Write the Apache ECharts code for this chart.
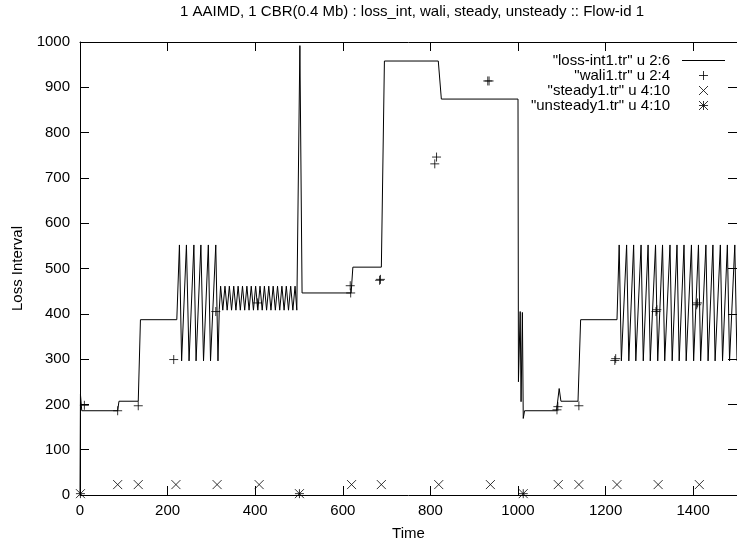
<!DOCTYPE html>
<html><head><meta charset="utf-8">
<script src="https://cdn.jsdelivr.net/npm/echarts@6/dist/echarts.min.js"></script>
<style>html,body{margin:0;padding:0;background:#fff}#c{width:737px;height:546px}</style>
</head><body><div id="c"></div>
<script>
// "loss-int1.tr" u 2:6  -> [time, loss interval]
const lossPoints = [
  [0,3],[1,222],[4,186],[86,186],[89,207],[133,207],[138,387],[221,387],
  [227,552],[232,296],[243,552],[249,296],[260,552],[265,296],[276,552],[282,296],[293,552],[298,296],[310,552],[315,296],
  [318,410],[321,461],[326,408],[331,461],[336,408],[341,461],[346,408],[351,461],[356,408],[361,461],[366,408],
  [371,461],[376,408],[381,461],[386,408],[391,461],[396,408],[401,461],[406,408],[411,461],[416,408],[421,461],
  [426,408],[431,461],[436,408],[441,461],[446,408],[451,461],[456,408],[461,461],[466,408],[471,461],[476,408],
  [481,461],[486,408],[491,461],[495,408],
  [502,992],[507,446],[619,446],[623,503],[688,503],[695,958],[818,958],[825,874],[1000,874],
  [1001,250],[1005,405],[1007,206],[1010,403],[1012,169],[1015,186],[1088,186],[1094,235],[1098,207],[1137,207],[1143,387],[1226,387],
  [1231,552],[1236,296],[1248,552],[1253,296],[1264,552],[1269,296],[1281,552],[1286,296],[1297,552],[1302,296],
  [1314,552],[1319,296],[1330,552],[1335,296],[1347,552],[1352,296],[1363,552],[1368,296],[1379,552],[1384,296],
  [1396,552],[1401,296],[1412,552],[1417,296],[1429,552],[1434,296],[1445,552],[1450,296],[1462,552],[1467,296],
  [1478,552],[1483,296],[1495,552],[1500,296]
];
// "wali1.tr" u 2:4
const waliPoints = [
  [10,198],[86,186],[133,197],[214,299],[310,405],[405,424],[617,462],[618,446],[684,474],[686,476],
  [810,731],[814,746],[931,914],[934,914],[1089,188],[1091,195],[1139,197],[1221,297],[1223,301],
  [1315,405],[1317,409],[1408,420],[1410,424]
];
// "steady1.tr" u 4:10
const steadyPoints = [
  [86,23],[133,23],[219,23],[313,23],[409,23],[620,23],[688,23],[819,23],[937,23],
  [1092,23],[1139,23],[1226,23],[1320,23],[1414,23]
];
// "unsteady1.tr" u 4:10
const unsteadyPoints = [[1,3],[501,3],[1012,3]];

const seriesNames = ['"loss-int1.tr" u 2:6', '"wali1.tr" u 2:4', '"steady1.tr" u 4:10', '"unsteady1.tr" u 4:10'];
const titleText = '1 AAIMD, 1 CBR(0.4 Mb) : loss_int, wali, steady, unsteady :: Flow-id 1';
const xName = 'Time', yName = 'Loss Interval';
const xMin = 0, xMax = 1500, xStep = 200;
const yMin = 0, yMax = 1000, yStep = 100;

const FONT = 'Liberation Sans, Arial, Helvetica, sans-serif';
const FS = 15;
const plusSym = 'path://M0,5 L10,5 M5,0 L5,10';
const crossSym = 'path://M0,0 L10,10 M0,10 L10,0';
const starSym = 'path://M0,5 L10,5 M5,0 L5,10 M0,0 L10,10 M0,10 L10,0';
const lineIcon = 'path://M0,0 L40,0 L40,1 L0,1 Z';

const chart = echarts.init(document.getElementById('c'), null, {renderer: 'canvas'});
const axisCommon = {
  axisLine: {show: true, onZero: false, lineStyle: {color: '#000', width: 1}},
  axisTick: {show: true, inside: true, length: 9, lineStyle: {color: '#000', width: 1}},
  splitLine: {show: false}
};
const plainNum = v => String(v);
const scatterStyle = {color: '#000', borderColor: '#000', borderWidth: 1};
chart.setOption({
  animation: false,
  backgroundColor: '#fff',
  textStyle: {fontFamily: FONT, color: '#000'},
  title: {
    text: titleText, left: 412, textAlign: 'center', top: 4, padding: 0,
    textStyle: {fontFamily: FONT, fontSize: FS, fontWeight: 'normal', color: '#000'}
  },
  legend: {
    orient: 'vertical', right: 12, top: 53, padding: 0, align: 'right',
    itemWidth: 43, itemHeight: 9, itemGap: 0,
    itemStyle: {borderWidth: 1},
    textStyle: {fontFamily: FONT, fontSize: FS, color: '#000', lineHeight: 14, padding: [0, 7, 0, 0]},
    data: [
      {name: seriesNames[0], icon: lineIcon, itemStyle: {borderWidth: 0}},
      {name: seriesNames[1]},
      {name: seriesNames[2]},
      {name: seriesNames[3]}
    ]
  },
  grid: {left: 80, top: 42, width: 664, height: 455, containLabel: false},
  xAxis: [
    Object.assign({type: 'value', min: xMin, max: xMax, interval: xStep, position: 'bottom',
      name: xName, nameLocation: 'middle', nameGap: 31,
      nameTextStyle: {fontFamily: FONT, fontSize: FS, color: '#000'},
      axisLabel: {fontFamily: FONT, fontSize: FS, color: '#000', margin: 8, showMaxLabel: false, formatter: plainNum}}, axisCommon),
    Object.assign({type: 'value', min: xMin, max: xMax, interval: xStep, position: 'top',
      axisLabel: {show: false}}, axisCommon)
  ],
  yAxis: [
    Object.assign({type: 'value', min: yMin, max: yMax, interval: yStep, position: 'left',
      name: yName, nameLocation: 'middle', nameGap: 55,
      nameTextStyle: {fontFamily: FONT, fontSize: FS, color: '#000'},
      axisLabel: {fontFamily: FONT, fontSize: FS, color: '#000', margin: 10, formatter: plainNum}}, axisCommon),
    Object.assign({type: 'value', min: yMin, max: yMax, interval: yStep, position: 'right',
      axisLabel: {show: false}}, axisCommon)
  ],
  series: [
    {name: seriesNames[0], type: 'line', data: lossPoints, symbol: 'none', showSymbol: false,
      color: '#000', itemStyle: {color: '#000'}, lineStyle: {color: '#000', width: 1}, z: 2},
    {name: seriesNames[1], type: 'scatter', data: waliPoints, symbol: plusSym, symbolSize: 9,
      itemStyle: scatterStyle, z: 3},
    {name: seriesNames[2], type: 'scatter', data: steadyPoints, symbol: crossSym, symbolSize: 9,
      itemStyle: scatterStyle, z: 3},
    {name: seriesNames[3], type: 'scatter', data: unsteadyPoints, symbol: starSym, symbolSize: 9,
      itemStyle: scatterStyle, z: 3}
  ]
});
</script></body></html>
